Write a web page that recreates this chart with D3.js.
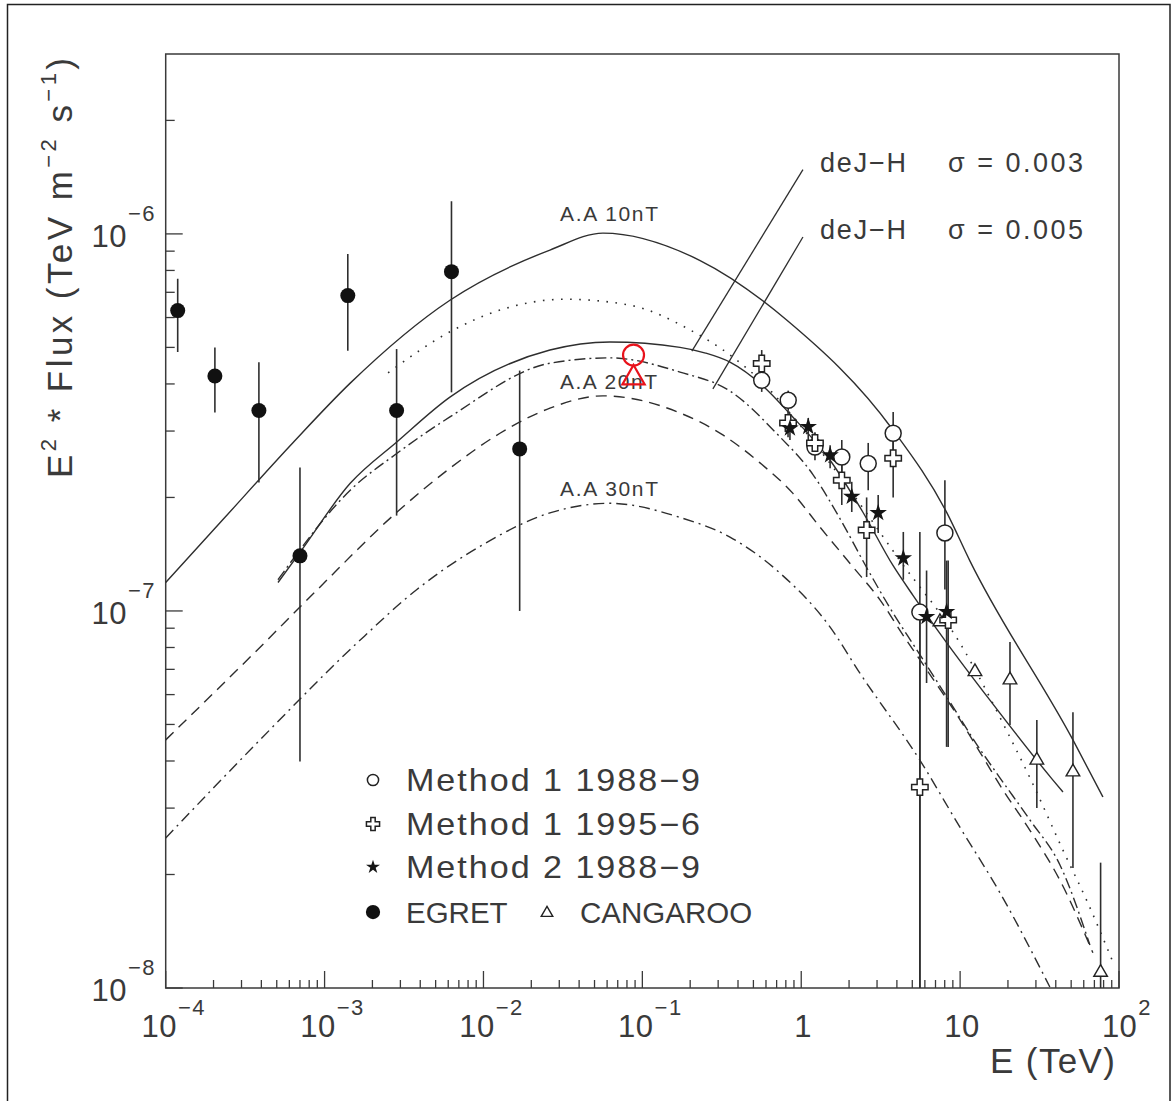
<!DOCTYPE html>
<html><head><meta charset="utf-8">
<script src="https://cdn.jsdelivr.net/npm/d3@7"></script>
<style>
body{margin:0;background:#fff;}
svg text{font-family:"Liberation Sans",Arial,sans-serif;fill:#3a3a3a;}
</style></head><body>
<svg id="c" width="1173" height="1101"></svg>
<script>
// ---------- data ----------
const xDomain = [1e-4, 1e2];
const yDomain = [1e-8, 3e-6];
const xMajorExp = [-4, -3, -2, -1, 0, 1, 2];
const xTickLabels = [["10","−4"],["10","−3"],["10","−2"],["10","−1"],["1",""],["10",""],["10","2"]];
const yMajorExp = [-8, -7, -6];
const yTickLabels = [["10","−8"],["10","−7"],["10","−6"]];

// model curves [E (TeV), E^2 Flux]
const curveAA10 = [[1.0e-4,1.19e-7],[2.3e-4,1.75e-7],[6.3e-4,2.79e-7],[1.45e-3,4.02e-7],[6.15e-3,6.67e-7],[0.0262,9.06e-7],[0.0565,1.005e-6],[0.231,8.5e-7],[0.813,5.90e-7],[3.78,3.02e-7],[8.26,1.82e-7],[11.5,1.36e-7],[51.3,4.55e-8],[79.2,3.21e-8]];
const curveAA20 = [[5.09e-4,1.19e-7],[7.0e-4,1.43e-7],[1.45e-3,2.18e-7],[2.86e-3,2.81e-7],[6.15e-3,3.69e-7],[0.0262,4.92e-7],[0.0625,5.17e-7],[0.1726,5.0e-7],[0.25,4.83e-7],[0.356,4.57e-7],[0.574,3.95e-7],[0.849,3.33e-7],[1.52,2.51e-7],[2.44,1.83e-7],[3.78,1.32e-7],[5.05,1.10e-7],[8.26,8.22e-8],[15.4,5.80e-8],[38.4,3.56e-8],[44.4,3.31e-8]];
const curveDotted = [[2.51e-3,4.28e-7],[6.15e-3,5.50e-7],[0.0127,6.28e-7],[0.0326,6.71e-7],[0.0836,6.47e-7],[0.2,5.56e-7],[0.372,4.71e-7],[0.608,3.93e-7],[0.982,3.11e-7],[2.03,2.09e-7],[4.18,1.36e-7],[9.97,8.22e-8],[20.0,4.74e-8],[28.3,3.52e-8],[44.4,2.32e-8],[63.7,1.68e-8],[90.2,1.19e-8]];
const curveDashDot = [[5.09e-4,1.21e-7],[1.45e-3,2.09e-7],[2.86e-3,2.62e-7],[6.15e-3,3.27e-7],[0.0262,4.54e-7],[0.0625,4.69e-7],[0.1726,4.30e-7],[0.356,3.83e-7],[0.703,2.95e-7],[1.185,2.30e-7],[1.75,1.76e-7],[2.59,1.30e-7],[3.61,1.02e-7],[5.35,7.87e-8],[8.26,5.91e-8],[12.8,4.41e-8],[17.8,3.61e-8],[27.5,2.79e-8],[42.5,2.12e-8],[65.6,1.30e-8]];
const curveDashed = [[1.0e-4,4.55e-8],[3.76e-4,7.87e-8],[8.95e-4,1.136e-7],[2.86e-3,1.83e-7],[6.15e-3,2.39e-7],[0.0127,2.96e-7],[0.0262,3.45e-7],[0.0565,3.72e-7],[0.1726,3.35e-7],[0.321,2.93e-7],[0.55,2.47e-7],[0.887,2.05e-7],[1.31,1.67e-7],[2.11,1.31e-7],[3.13,1.07e-7],[4.37,8.63e-8],[6.18,6.97e-8],[9.55,5.30e-8],[14.3,4.02e-8],[17.8,3.45e-8],[27.5,2.62e-8],[42.5,1.93e-8],[68.5,1.24e-8]];
const curveAA30 = [[1.0e-4,2.50e-8],[3.92e-4,4.55e-8],[1.60e-3,8.22e-8],[3.81e-3,1.14e-7],[9.93e-3,1.50e-7],[0.0262,1.82e-7],[0.0625,1.93e-7],[0.1726,1.77e-7],[0.356,1.57e-7],[0.735,1.26e-7],[1.52,9.06e-8],[2.34,6.84e-8],[5.58,4.02e-8],[9.97,2.67e-8],[17.8,1.79e-8],[36.7,1.006e-8]];

// deJ-H leader lines [E1,F1,E2,F2]
const deJH003 = [1.025, 1.48e-6, 0.205, 4.89e-7];
const deJH005 = [1.025, 9.81e-7, 0.278, 3.88e-7];

// measurements [E, value, low, high]
const egret = [[1.19e-4,6.26e-7,4.86e-7,7.6e-7],[2.04e-4,4.2e-7,3.36e-7,5.0e-7],[3.86e-4,3.40e-7,2.19e-7,4.57e-7],[7.0e-4,1.40e-7,3.99e-8,2.40e-7],[1.40e-3,6.86e-7,4.9e-7,8.85e-7],[2.84e-3,3.40e-7,1.79e-7,4.95e-7],[6.29e-3,7.94e-7,3.8e-7,1.22e-6],[1.69e-2,2.69e-7,1.0e-7,4.34e-7]];
const method1_1988 = [[0.564,4.09e-7,3.81e-7,4.44e-7],[0.828,3.62e-7,3.41e-7,3.84e-7],[1.22,2.72e-7,2.51e-7,2.96e-7],[1.80,2.56e-7,2.29e-7,2.84e-7],[2.64,2.46e-7,2.09e-7,2.79e-7],[3.79,2.96e-7,2.59e-7,3.37e-7],[8.02,1.61e-7,1.14e-7,2.22e-7],[5.58,9.93e-8,1e-8,1.62e-7]];
const method1_1995 = [[0.564,4.53e-7,4.15e-7,4.92e-7],[0.826,3.15e-7,2.89e-7,3.41e-7],[1.22,2.79e-7,2.59e-7,2.98e-7],[1.80,2.22e-7,1.91e-7,2.44e-7],[2.58,1.64e-7,1.23e-7,2.0e-7],[3.79,2.54e-7,2.0e-7,2.84e-7],[5.58,3.41e-8,1e-8,9.46e-8],[8.41,9.46e-8,4.36e-8,1.36e-7]];
const method2_1988 = [[0.849,3.05e-7,2.84e-7,3.21e-7],[1.107,3.08e-7,2.84e-7,3.25e-7],[1.52,2.59e-7,2.39e-7,2.75e-7],[2.08,2.01e-7,1.83e-7,2.20e-7],[3.05,1.82e-7,1.61e-7,2.03e-7],[4.39,1.38e-7,1.21e-7,1.62e-7],[6.15,9.65e-8,6.44e-8,1.28e-7],[8.22,9.95e-8,4.36e-8,1.36e-7]];
const cangaroo = [[7.46,9.36e-8,null,null],[12.4,6.90e-8,null,null],[20.6,6.56e-8,4.98e-8,8.27e-8],[30.4,4.02e-8,3.0e-8,5.14e-8],[51.3,3.74e-8,2.08e-8,5.39e-8],[76.6,1.10e-8,1e-8,2.15e-8]];
const redMarks = [["circle",0.088,4.77e-7],["triangle",0.088,4.15e-7]];

const legendItems = [["circle","Method 1 1988−9"],["cross","Method 1 1995−6"],["star","Method 2 1988−9"],["dot","EGRET"]];

// ---------- drawing ----------
const svg = d3.select("#c");
const L = 165.7, R = 1119, T = 54, B = 988;
const x = d3.scaleLog().domain(xDomain).range([L, R]);
const y = d3.scaleLog().domain(yDomain).range([B, T]);
const ink = "#2e2e2e";

svg.append("rect").attr("x",7.5).attr("y",4.5).attr("width",1162.5).attr("height",1100)
  .attr("fill","none").attr("stroke","#222").attr("stroke-width",1.5);

svg.append("clipPath").attr("id","clip").append("rect")
  .attr("x",L).attr("y",T).attr("width",R-L).attr("height",B-T);

svg.append("rect").attr("x",L).attr("y",T).attr("width",R-L).attr("height",B-T)
  .attr("fill","none").attr("stroke","#3a3a3a").attr("stroke-width",1.5);

// ticks
const gt = svg.append("g").attr("stroke","#3a3a3a").attr("stroke-width",1.3);
for (let e = -4; e <= 2; e++) {
  for (let m = 1; m <= 9; m++) {
    const v = m * Math.pow(10, e);
    if (v < xDomain[0] || v > xDomain[1] * 1.0001) continue;
    const len = m === 1 ? 17 : 8;
    gt.append("line").attr("x1",x(v)).attr("x2",x(v)).attr("y1",B).attr("y2",B-len);
  }
}
for (let e = -8; e <= -6; e++) {
  for (let m = 1; m <= 9; m++) {
    const v = m * Math.pow(10, e);
    if (v < yDomain[0] || v >= yDomain[1] * 0.999) continue;
    const len = m === 1 ? 17 : 9;
    gt.append("line").attr("x1",L).attr("x2",L+len).attr("y1",y(v)).attr("y2",y(v));
  }
}

// x tick labels
xMajorExp.forEach((e, i) => {
  const [base, sup] = xTickLabels[i];
  const t = svg.append("text").attr("x", x(Math.pow(10, e)) + (sup ? 8 : 2)).attr("y", 1037)
    .attr("text-anchor","middle").style("font-size","31px").style("letter-spacing","0.5px");
  t.append("tspan").text(base);
  if (sup) t.append("tspan").attr("dy",-22).attr("dx",1).style("font-size","22px").style("letter-spacing","1.5px").text(sup);
});
// y tick labels
yMajorExp.forEach((e, i) => {
  const [base, sup] = yTickLabels[i];
  const ty = y(Math.pow(10, e));
  svg.append("text").attr("x",127).attr("y",ty+13).attr("text-anchor","end").style("font-size","31px").style("letter-spacing","0.5px").text(base);
  svg.append("text").attr("x",128).attr("y",ty-13).style("font-size","22px").style("letter-spacing","1.5px").text(sup);
});

// axis titles
const yt = svg.append("text").attr("transform","translate(72,268) rotate(-90)")
  .attr("text-anchor","middle").style("font-size","35px")
  .attr("textLength",420).attr("lengthAdjust","spacing");
yt.append("tspan").text("E");
yt.append("tspan").attr("dy",-16).style("font-size","22px").text("2");
yt.append("tspan").attr("dy",16).text(" * Flux (TeV m");
yt.append("tspan").attr("dy",-16).style("font-size","22px").text("−2");
yt.append("tspan").attr("dy",16).text(" s");
yt.append("tspan").attr("dy",-16).style("font-size","22px").text("−1");
yt.append("tspan").attr("dy",16).text(")");

svg.append("text").attr("x",1115).attr("y",1073).attr("text-anchor","end")
  .style("font-size","35px").attr("textLength",125).attr("lengthAdjust","spacing").text("E (TeV)");

// curves
const line = d3.line().x(d => x(d[0])).y(d => y(d[1])).curve(d3.curveMonotoneX);
const gc = svg.append("g").attr("clip-path","url(#clip)").attr("fill","none").attr("stroke",ink).attr("stroke-width",1.4);
gc.append("path").datum(curveAA10).attr("d",line);
gc.append("path").datum(curveAA20).attr("d",line);
gc.append("path").datum(curveDotted).attr("d",line).attr("stroke-dasharray","1.6,7.5").attr("stroke-width",1.6);
gc.append("path").datum(curveDashDot).attr("d",line).attr("stroke-dasharray","11,4,2,4");
gc.append("path").datum(curveDashed).attr("d",line).attr("stroke-dasharray","11,7");
gc.append("path").datum(curveAA30).attr("d",line).attr("stroke-dasharray","11,5,2,5");

[deJH003, deJH005].forEach(d => {
  svg.append("line").attr("x1",x(d[0])).attr("y1",y(d[1])).attr("x2",x(d[2])).attr("y2",y(d[3]))
    .attr("stroke",ink).attr("stroke-width",1.3);
});

// curve labels
svg.append("text").attr("x",560).attr("y",221).style("font-size","21px").attr("textLength",98).attr("lengthAdjust","spacing").text("A.A 10nT");
svg.append("text").attr("x",560).attr("y",389).style("font-size","21px").attr("textLength",97).attr("lengthAdjust","spacing").text("A.A 20nT");
svg.append("text").attr("x",560).attr("y",496).style("font-size","21px").attr("textLength",98).attr("lengthAdjust","spacing").text("A.A 30nT");
[[172,"0.003"],[239,"0.005"]].forEach(([yy, s]) => {
  svg.append("text").attr("x",820).attr("y",yy).style("font-size","27px").attr("textLength",86).attr("lengthAdjust","spacing").text("deJ−H");
  svg.append("text").attr("x",948).attr("y",yy).style("font-size","27px").attr("textLength",135).attr("lengthAdjust","spacing").text("σ = " + s);
});

// markers
const gp = svg.append("g").attr("clip-path","url(#clip)");
function errbars(data) {
  data.filter(d => d[2] != null).forEach(d => {
    gp.append("line").attr("x1",x(d[0])).attr("x2",x(d[0])).attr("y1",y(d[2])).attr("y2",y(d[3]))
      .attr("stroke",ink).attr("stroke-width",1.6);
  });
}
function marker(g, type, cx, cy, scale, color) {
  color = color || "#222";
  if (type === "circle") {
    g.append("circle").attr("cx",cx).attr("cy",cy).attr("r",8*scale).attr("fill","#fff").attr("stroke",color).attr("stroke-width",1.5);
  } else if (type === "dot") {
    g.append("circle").attr("cx",cx).attr("cy",cy).attr("r",7.5*scale).attr("fill","#111");
  } else if (type === "cross") {
    g.append("path").attr("transform",`translate(${cx},${cy})`).attr("d",d3.symbol(d3.symbolCross,150*scale*scale)())
      .attr("fill","#fff").attr("stroke",color).attr("stroke-width",1.5);
  } else if (type === "star") {
    g.append("path").attr("transform",`translate(${cx},${cy})`).attr("d",d3.symbol(d3.symbolStar,95*scale*scale)())
      .attr("fill","#151515");
  } else if (type === "triangle") {
    g.append("path").attr("transform",`translate(${cx},${cy})`).attr("d",d3.symbol(d3.symbolTriangle,80*scale*scale)())
      .attr("fill","#fff").attr("stroke",color).attr("stroke-width",1.4);
  }
}
[egret, method1_1988, method1_1995, method2_1988, cangaroo].forEach(errbars);
egret.forEach(d => marker(gp,"dot",x(d[0]),y(d[1]),1));
cangaroo.forEach(d => marker(gp,"triangle",x(d[0]),y(d[1]),1));
method1_1988.forEach(d => marker(gp,"circle",x(d[0]),y(d[1]),1));
method1_1995.forEach(d => marker(gp,"cross",x(d[0]),y(d[1]),1));
method2_1988.forEach(d => marker(gp,"star",x(d[0]),y(d[1]),1));

redMarks.forEach(([t, e, f]) => {
  if (t === "circle") {
    svg.append("circle").attr("cx",x(e)).attr("cy",y(f)).attr("r",10.5).attr("fill","none").attr("stroke","#e8121b").attr("stroke-width",2.2);
  } else {
    svg.append("path").attr("transform",`translate(${x(e)},${y(f)})`).attr("d",d3.symbol(d3.symbolTriangle,215)())
      .attr("fill","none").attr("stroke","#e8121b").attr("stroke-width",2.2);
  }
});

// legend
const lg = svg.append("g");
const legY = [780, 824, 867, 912];
legendItems.forEach(([t, label], i) => {
  marker(lg, t, 373, legY[i], t === "dot" ? 0.95 : (t === "circle" ? 0.7 : 0.8));
  if (label === "EGRET") {
    lg.append("text").attr("x",406).attr("y",legY[i]+11).style("font-size","29.5px").text(label);
  } else {
    lg.append("text").attr("transform",`translate(406,${legY[i]+11}) scale(1.1,1)`).style("font-size","31px")
      .attr("textLength",294/1.1).attr("lengthAdjust","spacing").text(label);
  }
});
marker(lg, "triangle", 547, legY[3]+1, 0.85);
lg.append("text").attr("x",580).attr("y",legY[3]+11).style("font-size","29.5px").text("CANGAROO");
</script>
</body></html>
